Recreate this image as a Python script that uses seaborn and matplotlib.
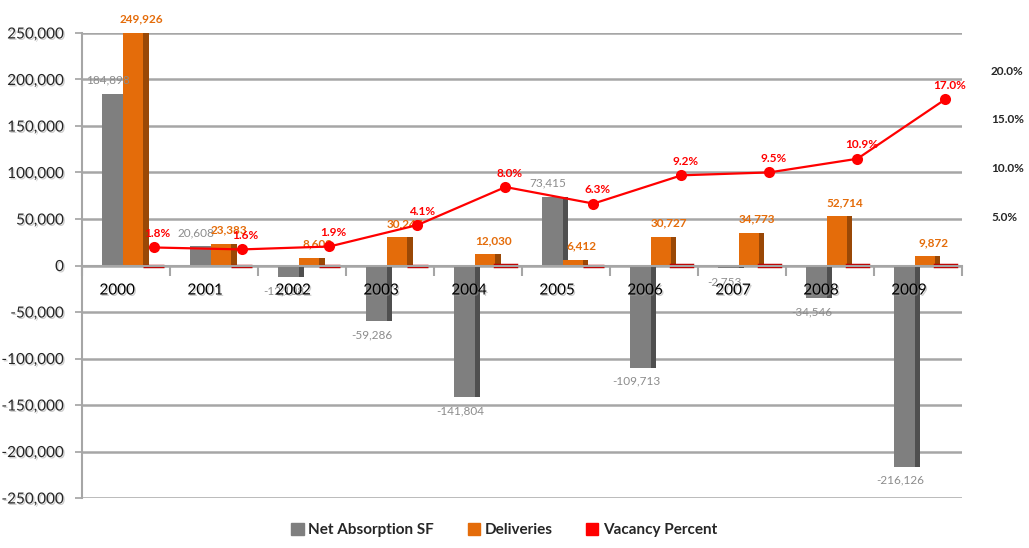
import numpy as np
import pandas as pd
import seaborn as sns
import matplotlib.pyplot as plt
import matplotlib.patheffects as pe
from matplotlib.patches import Patch
from matplotlib.ticker import FuncFormatter

years = [str(y) for y in range(2000, 2010)]
net_absorption = [184898, 20608, -12108, -59286, -141804, 73415, -109713, -2753, -34546, -216126]
deliveries = [249926, 23383, 8603, 30247, 12030, 6412, 30727, 34773, 52714, 9872]
vacancy = [1.8, 1.6, 1.9, 4.1, 8.0, 6.3, 9.2, 9.5, 10.9, 17.0]

series = ["Net Absorption SF", "Deliveries", "Vacancy Percent"]
front_pal = {"Net Absorption SF": "#7f7f7f", "Deliveries": "#e46c0a", "Vacancy Percent": "#c00000"}
side_pal = {"Net Absorption SF": "#4f4f4f", "Deliveries": "#9a4806", "Vacancy Percent": "#800000"}
legend_colors = ["#7f7f7f", "#e46c0a", "#ff0000"]

df = pd.DataFrame({
    "year": years * 3,
    "series": [s for s in series for _ in years],
    "value": net_absorption + deliveries + vacancy,
})

sns.set_theme(style="white")
plt.rcParams["font.family"] = ["Lato", "DejaVu Sans"]

shadow = [pe.SimplePatchShadow(offset=(1, -1), shadow_rgbFace="#9a9a9a", alpha=0.5), pe.Normal()]

fig = plt.figure(figsize=(10.29, 5.48), dpi=100)
ax = fig.add_axes([0.0797, 0.0912, 0.855, 0.8486])

shift = 0.08
# darker side faces (fake 3D depth)
n0 = len(ax.patches)
sns.barplot(data=df[df.series != "Vacancy Percent"], x="year", y="value", hue="series",
            hue_order=series, palette=side_pal, width=0.7, saturation=1,
            errorbar=None, legend=False, ax=ax, linewidth=0)
for p in ax.patches[n0:]:
    p.set_x(p.get_x() + shift + 0.06)
n1 = len(ax.patches)
sns.barplot(data=df, x="year", y="value", hue="series", hue_order=series,
            palette=front_pal, width=0.7, saturation=1, errorbar=None,
            legend=False, ax=ax, linewidth=0)
front = ax.patches[n1:]
for p in front:
    p.set_x(p.get_x() + shift)

# vacancy bars are nearly flat on the primary axis -> give them a visible edge
for p in front[20:]:
    p.set_edgecolor("#c00000")
    p.set_linewidth(2.5)

# data labels
for p, v in zip(front[:10], net_absorption):
    cx = p.get_x() + p.get_width() / 2
    off = 6 if v >= 0 else -6
    ax.annotate(f"{v:,}", (cx, v), xytext=(-3, off), textcoords="offset points",
                ha="center", va="bottom" if v >= 0 else "top",
                fontsize=8.5, color="#8c8c8c", zorder=6)
for p, v in zip(front[10:20], deliveries):
    cx = p.get_x() + p.get_width() / 2
    ax.annotate(f"{v:,}", (cx, v), xytext=(6, 6), textcoords="offset points",
                ha="center", va="bottom", fontsize=8.5, color="#e46c0a",
                fontweight="bold", annotation_clip=False, zorder=6)

ax.set_ylim(-250000, 250000)
ax.set_yticks(np.arange(-250000, 250001, 50000))
ax.yaxis.set_major_formatter(FuncFormatter(lambda v, _: f"{v:,.0f}"))
ax.yaxis.grid(True, color="#a6a6a6", linewidth=1.8)
ax.set_axisbelow(True)
ax.set_xlabel("")
ax.set_ylabel("")
for s in ["top", "right"]:
    ax.spines[s].set_visible(False)
ax.spines["left"].set_color("#a6a6a6")
ax.spines["left"].set_linewidth(1.5)
ax.spines["bottom"].set_position(("data", 0))
ax.spines["bottom"].set_color("#a6a6a6")
ax.spines["bottom"].set_linewidth(1.5)
ax.tick_params(axis="y", length=5, color="#a6a6a6", labelsize=11, pad=8, left=True)
for lbl in ax.get_yticklabels():
    lbl.set_path_effects(shadow)
ax.tick_params(axis="x", which="major", length=0, labelbottom=False)
ax.set_xticks(np.arange(-0.5, 10, 1), minor=True)
ax.tick_params(axis="x", which="minor", length=7, color="#a6a6a6", width=1.5, bottom=True)

# year labels sit on top of the bars, just under the zero line
for i, y in enumerate(years):
    t = ax.annotate(y, (i - 0.1, 0), xytext=(0, -18), textcoords="offset points",
                    ha="center", va="center", fontsize=11, color="black", zorder=7)
    t.set_path_effects(shadow)

# vacancy line on secondary axis
ax2 = ax.twinx()
line_x = np.arange(len(years)) + shift + 0.233
sns.lineplot(x=line_x, y=vacancy, ax=ax2, color="#ff0000", linewidth=1.6,
             marker="o", markersize=8, markeredgewidth=0)
for x, v in zip(line_x, vacancy):
    ax2.annotate(f"{v:.1f}%", (x, v), xytext=(3, 6), textcoords="offset points",
                 ha="center", va="bottom", fontsize=8.5, color="#ff0000", fontweight="bold")
ax2.set_ylim(-23.9, 23.8)
ax2.set_yticks([5, 10, 15, 20])
ax2.yaxis.set_major_formatter(FuncFormatter(lambda v, _: f"{v:.1f}%"))
ax2.tick_params(axis="y", length=0, labelsize=8.5, pad=21)
for lbl in ax2.get_yticklabels():
    lbl.set_fontweight("bold")
ax2.set_ylabel("")
for s in ax2.spines.values():
    s.set_visible(False)
ax.set_xlim(-0.5, 9.5)

handles = [Patch(color=c, label=s) for c, s in zip(legend_colors, series)]
fig.legend(handles=handles, loc="lower center", bbox_to_anchor=(0.49, -0.005), ncol=3,
           frameon=False, handlelength=0.8, handleheight=0.8, handletextpad=0.3,
           columnspacing=2.2, prop={"weight": "bold", "size": 11})

fig.savefig("out.png", dpi=100)
